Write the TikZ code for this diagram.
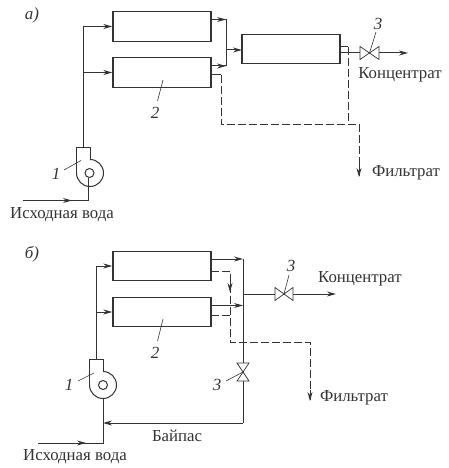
\documentclass[tikz,border=0pt]{standalone}
\usepackage{fontspec}
\setmainfont{Liberation Serif}
\usetikzlibrary{arrows.meta}
\definecolor{ink}{HTML}{333333}
\tikzset{
  x=1pt,y=-1pt,
  every path/.style={color=ink},
  unit/.style={draw=ink,line width=1.4pt,minimum width=98pt,minimum height=29.5pt,inner sep=0pt},
  pipe/.style={draw=ink,line width=1pt,line join=miter},
  drain/.style={pipe,dash pattern=on 8pt off 3pt},
  flow/.style={pipe,-{Stealth[length=9pt,width=5pt]}},
  drainflow/.style={drain,-{Stealth[length=9pt,width=5pt]}},
  lead/.style={draw=ink,line width=.6pt},
  valvebody/.style={draw=ink,line width=.7pt,fill=white},
  txt/.style={text=ink,font=\fontsize{16.8}{18}\selectfont,inner sep=0pt},
  num/.style={text=ink,font=\itshape\fontsize{17}{18}\selectfont,inner sep=0pt},
}
\begin{document}
\begin{tikzpicture}
\useasboundingbox (0,0) rectangle (449,468);
% ---------- panel a
\node[num] (la) at (32,15) {а)};
\node[unit] (a1) at (162,26.5) {};
\node[unit] (a2) at (162,72.5) {};
\node[unit] (a3) at (291,49) {};
\coordinate (aPumpC) at (89.5,173);
\coordinate (aPumpT) at (83,147);
\coordinate (aFeedT) at (83,26.5);
\coordinate (aFeedM) at (83,72.5);
\draw[pipe] (aPumpT) -- (aFeedT);
\draw[flow] (aFeedT) -- (a1.west);
\draw[flow] (aFeedM) -- (a2.west);
\draw[pipe] (76,173) -- (76,147) -- (90,147) -- (90,159.5);
\draw[pipe] (90,159.5) arc[start angle=-90,end angle=180,radius=13.5];
\draw[pipe] (aPumpC) circle[radius=4.5];
\coordinate (aIn) at (23,200.5);
\coordinate (aInC) at (88,200.5);
\coordinate (aInM) at (72,200.5);
\draw[pipe] (88,178) -- (aInC) -- (aIn);
\draw[flow] (aIn) -- (aInM);
\node[txt] (asrc) at (62,214.5) {Исходная вода};
\node[num] (an1) at (56,174) {1};
\draw[lead] (64,170) -- (81,160.5);
\node[num] (an2) at (155,113) {2};
\draw[lead] (157.5,101) -- (163,80);
% merge
\coordinate (aM1) at (226,19.5);
\coordinate (aM2) at (226,66);
\coordinate (aMm) at (226,50);
\coordinate (a1o) at (211,19.5);
\coordinate (a2o) at (211,66);
\draw[pipe] (aM1) -- (aM2);
\draw[pipe] (a1o) -- (aM1);
\draw[pipe] (a2o) -- (aM2);
\draw[flow] (a1o) -- (226,19.5);
\draw[flow] (a2o) -- (226,66);
\draw[flow] (aMm) -- (242,50);
% concentrate
\coordinate (aV) at (369.5,53);
\coordinate (a3o) at (340,53);
\coordinate (aOut) at (408,53);
\draw[pipe] (a3o) -- (aV);
\draw[flow] (aV) -- (aOut);
\draw[valvebody] (360,46.5) -- (379,59.5) -- (379,46.5) -- (360,59.5) -- cycle;
\node[num] (an3) at (378,24) {3};
\draw[lead] (376,32) -- (aV);
\node[txt] (akon) at (400,74.5) {Концентрат};
% drain
\coordinate (aD2) at (211,75);
\coordinate (aD3) at (340,47);
\coordinate (aDj) at (348,124.5);
\coordinate (aDe) at (359,124.5);
\coordinate (aDf) at (359,177);
\draw[pipe] (aD2) -- (221,75);
\draw[drain] (221,75) -- (221,124.5) -- (aDj) -- (aDe) -- (aDf);
\draw[drainflow] (359,165) -- (aDf);
\draw[pipe] (aD3) -- (348,47);
\draw[drain] (348,47) -- (aDj);
\node[txt] (afil) at (406,172.5) {Фильтрат};
% ---------- panel b
\node[num] (lb) at (32,254) {б)};
\node[unit] (b1) at (162,266) {};
\node[unit] (b2) at (162,312) {};
\coordinate (bPumpC) at (103,385);
\coordinate (bPumpT) at (96,359);
\coordinate (bFeedT) at (96,266);
\coordinate (bFeedM) at (96,312);
\draw[pipe] (bPumpT) -- (bFeedT);
\draw[flow] (bFeedT) -- (b1.west);
\draw[flow] (bFeedM) -- (b2.west);
\draw[pipe] (89.5,385) -- (89.5,359) -- (103,359) -- (103,371.5);
\draw[pipe] (103,371.5) arc[start angle=-90,end angle=180,radius=13.5];
\draw[pipe] (bPumpC) circle[radius=4.5];
\coordinate (bIn) at (38,443);
\coordinate (bInC) at (103,443);
\coordinate (bInM) at (86,443);
\draw[pipe] (103,398.5) -- (bInC) -- (bIn);
\draw[flow] (bIn) -- (bInM);
\node[txt] (bsrc) at (75,456.5) {Исходная вода};
\node[num] (bn1) at (69,384.5) {1};
\draw[lead] (78,381) -- (94,373);
\node[num] (bn2) at (155,352.5) {2};
\draw[lead] (157.5,341) -- (163,319);
% riser and bypass
\coordinate (bRt) at (243,259);
\coordinate (bRb) at (243,423);
\coordinate (bBy) at (103,423);
\coordinate (bVv) at (243,372);
\coordinate (bRm) at (243,305.5);
\coordinate (bRc) at (243,294);
\draw[pipe] (bRt) -- (bRb);
\draw[flow] (bRb) -- (bBy);
\draw[flow] (211,259) -- (bRt);
\draw[flow] (211,305.5) -- (bRm);
\draw[valvebody] (237,363) -- (249,381) -- (237,381) -- (249,363) -- cycle;
\node[num] (bn3b) at (217,385) {3};
\draw[lead] (226,381) -- (bVv);
\node[txt] (bbyp) at (177,436) {Байпас};
% concentrate
\coordinate (bV) at (284,294);
\coordinate (bOut) at (336,294);
\draw[pipe] (bRc) -- (bV);
\draw[flow] (bV) -- (bOut);
\draw[valvebody] (275,287.5) -- (293,300.5) -- (293,287.5) -- (275,300.5) -- cycle;
\node[num] (bn3a) at (291,266) {3};
\draw[lead] (289,275) -- (bV);
\node[txt] (bkon) at (318,278.5) [anchor=west] {Концентрат};
% drain
\coordinate (bDt) at (230,271);
\coordinate (bDm) at (230,315);
\coordinate (bDb) at (230,342.5);
\coordinate (bDr) at (310,342.5);
\coordinate (bDe) at (310,401);
\draw[drain] (211,271) -- (bDt) -- (bDb) -- (bDr) -- (bDe);
\draw[drain] (211,315) -- (bDm);
\draw[flow] (230,280) -- (230,292);
\draw[drainflow] (310,390) -- (bDe);
\node[txt] (bfil) at (354,397.5) {Фильтрат};
\end{tikzpicture}
\end{document}
